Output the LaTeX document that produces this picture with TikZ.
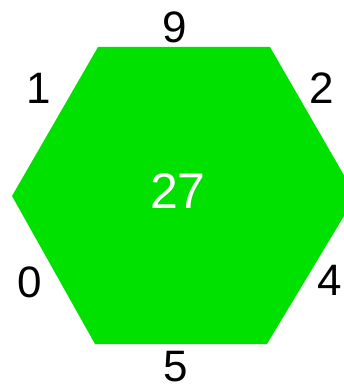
\documentclass[tikz,border=0pt]{standalone}
\usepackage{fontspec}
\setmainfont{Liberation Sans}
\definecolor{hexgreen}{RGB}{0,225,0}
\begin{document}
\begin{tikzpicture}[x=1pt,y=-1pt,
  lab/.style={inner sep=0pt,font=\fontsize{44}{50}\selectfont,text=black},
  val/.style={inner sep=0pt,font=\fontsize{50}{56}\selectfont,text=white}]
\useasboundingbox (0,0) rectangle (344,387);
\fill[hexgreen] (98,47) -- (270,47) -- (356,196) -- (267,344) -- (95,344) -- (12,196) -- cycle;
\node[val] (c) at (178,191) {27};
\node[lab] (n9) at (175,27) {9};
\node[lab] (n1) at (39,88) {1};
\node[lab] (n2) at (322,88) {2};
\node[lab] (n0) at (30,282) {0};
\node[lab] (n4) at (330,280) {4};
\node[lab] (n5) at (176,367) {5};
\end{tikzpicture}
\end{document}
